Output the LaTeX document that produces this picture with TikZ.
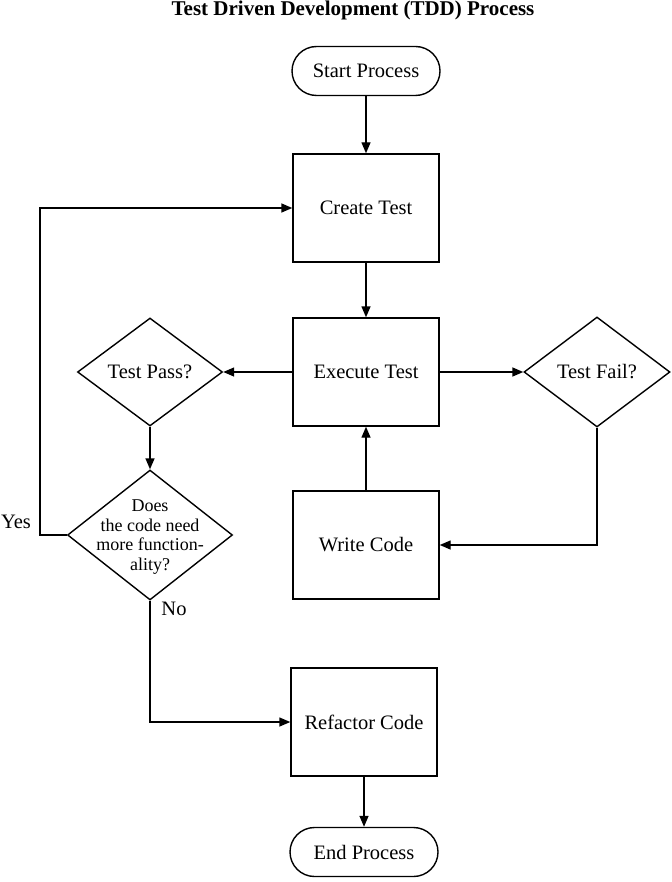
\documentclass[tikz,border=0pt]{standalone}
\usepackage{fontspec}
\setmainfont{Liberation Serif}
\usetikzlibrary{shapes.geometric,arrows.meta}
\begin{document}
\begin{tikzpicture}[x=1pt,y=-1pt,
  every node/.style={font=\fontsize{20.5}{19.5}\selectfont},
  box/.style={draw,line width=1.4pt,minimum width=146pt,minimum height=108pt,inner sep=0pt},
  term/.style={draw,line width=1.4pt,minimum width=148pt,minimum height=49pt,rounded corners=24.5pt},
  dec/.style={draw,diamond,line width=1.4pt,inner sep=0pt},
  arr/.style={line width=1.4pt,-{Triangle[length=11pt,width=9pt]}}]
\useasboundingbox (0,0) rectangle (671,882);
\node[font=\bfseries\fontsize{21}{22}\selectfont,inner sep=0pt] (title) at (353,10) {Test Driven Development (TDD) Process};
\node[term] (start) at (366,71) {Start Process};
\node[box] (create) at (366,208) {Create Test};
\node[box] (exec) at (366,372) {Execute Test};
\node[dec,minimum width=145pt,minimum height=108pt] (pass) at (150,372) {};
\node (passtext) at (pass) {Test Pass?};
\node[dec,minimum width=146pt,minimum height=110pt] (fail) at (597,372) {};
\node (failtext) at (fail) {Test Fail?};
\node[dec,minimum width=165pt,minimum height=130pt] (does) at (150,535) {};
\node[align=center,font=\fontsize{18}{19.5}\selectfont] (doestext) at (150,537) {Does\\the code need\\more function-\\ality?};
\node[box] (write) at (366,545) {Write Code};
\node[box] (refactor) at (364,722) {Refactor Code};
\node[term] (end) at (364,852) {End Process};
\node (yes) at (16,522) {Yes};
\node (no) at (174,609) {No};
\draw[arr] (start) -- (create);
\draw[arr] (create) -- (exec);
\draw[arr] (exec) -- (pass);
\draw[arr] (exec) -- (fail);
\draw[arr] (pass) -- (does);
\draw[arr] (does.west) -- ++(-27,0) |- (create.west);
\draw[arr] (does.south) |- (refactor.west);
\draw[arr] (fail.south) |- (write.east);
\draw[arr] (write) -- (exec);
\draw[arr] (refactor) -- (end);
\end{tikzpicture}
\end{document}
